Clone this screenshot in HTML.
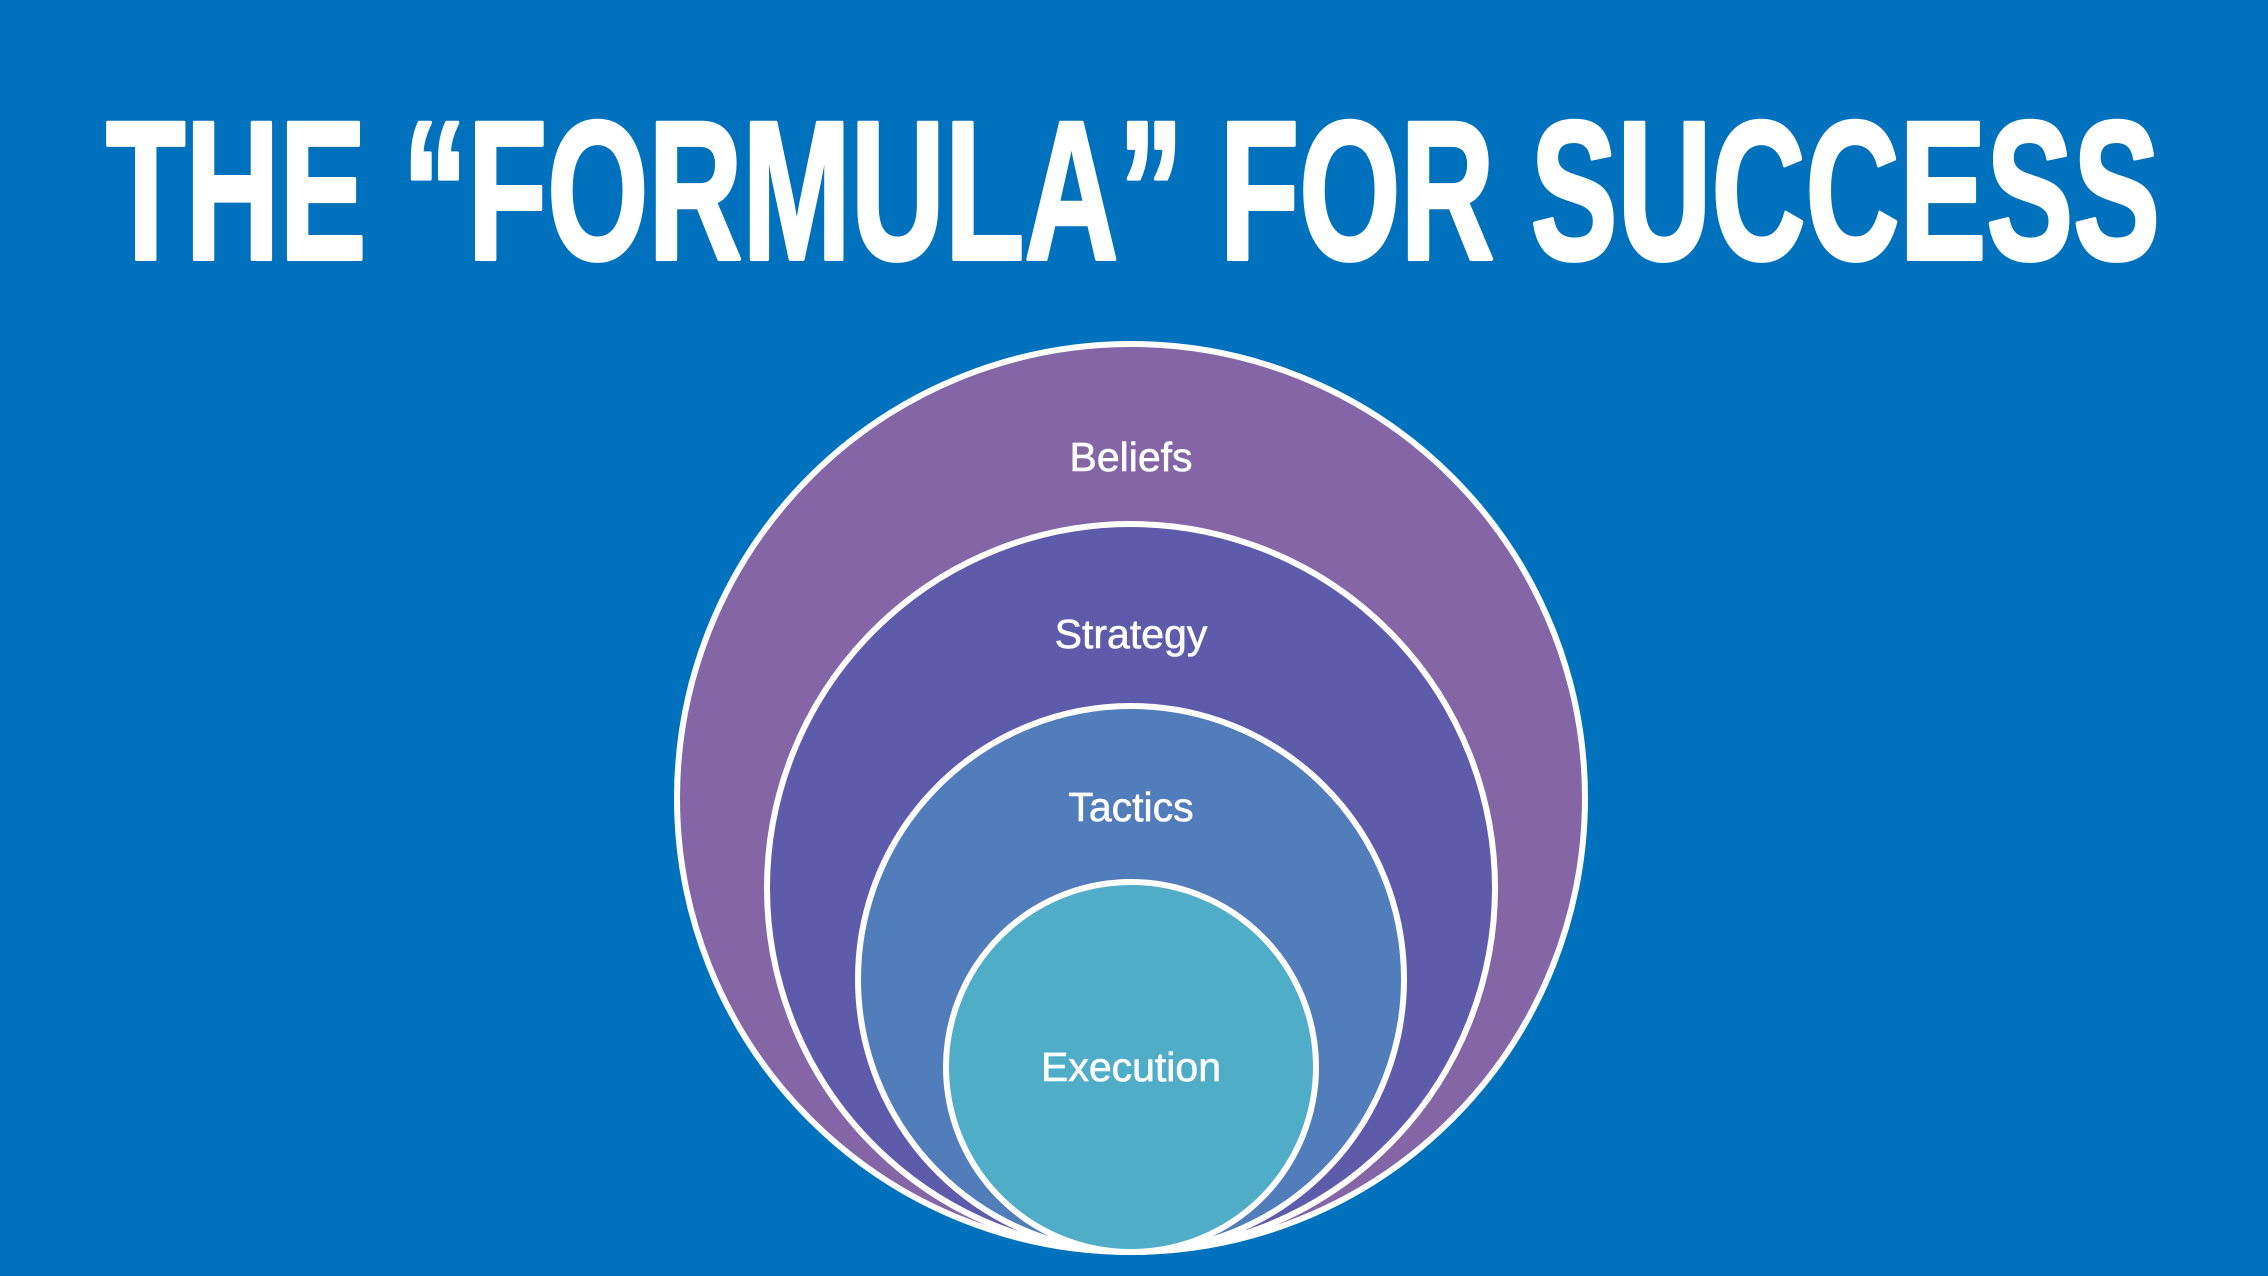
<!DOCTYPE html>
<html><head><meta charset="utf-8"><style>
html,body{margin:0;padding:0;background:#0071bc;}
svg{display:block}
</style></head><body>
<svg width="2268" height="1276" viewBox="0 0 2268 1276" xmlns="http://www.w3.org/2000/svg">
<rect width="2268" height="1276" fill="#0071bc"/>
<text x="106" y="259" textLength="2054" lengthAdjust="spacingAndGlyphs" font-family="'Liberation Sans Narrow','Liberation Sans',sans-serif" font-weight="bold" font-size="198" fill="#fff" stroke="#fff" stroke-width="4" stroke-linejoin="round">THE “FORMULA” FOR SUCCESS</text>
<g stroke="#fff" stroke-width="6">
<circle cx="1131" cy="798" r="454" fill="#8466a6"/>
<circle cx="1131" cy="888" r="364" fill="#5e5bab"/>
<circle cx="1131" cy="979" r="273" fill="#517dba"/>
<circle cx="1131" cy="1067" r="185" fill="#4fadc8"/>
</g>
<g fill="#fff" stroke="#fff" stroke-width="0.6" font-family="'Liberation Sans',sans-serif" font-size="41" text-anchor="middle">
<text x="1131" y="471">Beliefs</text>
<text x="1131" y="648">Strategy</text>
<text x="1131" y="821">Tactics</text>
<text x="1131" y="1081">Execution</text>
</g>
</svg>
</body></html>
